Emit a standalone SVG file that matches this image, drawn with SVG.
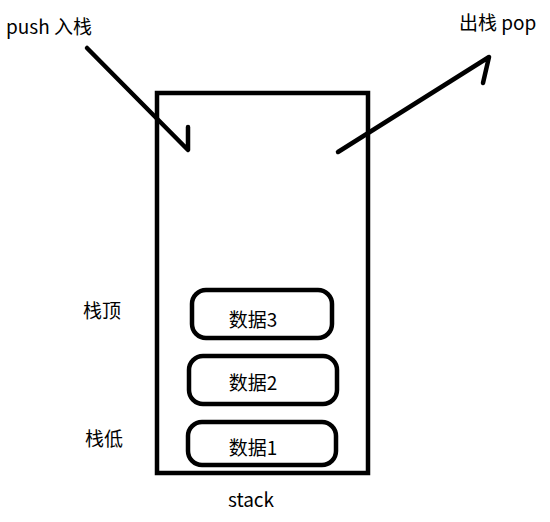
<svg xmlns="http://www.w3.org/2000/svg" width="550" height="522" viewBox="0 0 550 522">
<style>
.t{font-family:"Microsoft YaHei","Noto Sans CJK SC","Liberation Sans",sans-serif;font-size:19px;fill:#000}
.s{fill:none;stroke:#000;stroke-width:4.5;stroke-linecap:round;stroke-linejoin:round}
.b{fill:#fff;stroke:#000;stroke-width:4.5}
</style>
<rect width="550" height="522" fill="#fff"/>
<g id="stack">
<rect x="157" y="93" width="211" height="380" fill="none" stroke="#000" stroke-width="4.5"/>
<text class="t" x="251" y="507" text-anchor="middle">stack</text>
</g>
<g id="data3">
<rect class="b" x="192" y="290" width="140" height="48" rx="14"/>
<text class="t" x="253" y="327" text-anchor="middle">数据3</text>
</g>
<g id="data2">
<rect class="b" x="189" y="356" width="148" height="48" rx="14"/>
<text class="t" x="253" y="390" text-anchor="middle">数据2</text>
</g>
<g id="data1">
<rect class="b" x="188" y="422" width="148" height="43" rx="14"/>
<text class="t" x="253" y="455" text-anchor="middle">数据1</text>
</g>
<g id="labels">
<text class="t" x="83" y="318">栈顶</text>
<text class="t" x="85" y="446">栈低</text>
<text class="t" x="6" y="34">push 入栈</text>
<text class="t" x="459" y="30">出栈 pop</text>
</g>
<g id="connectors">
<path class="s" d="M87,48 L188,150 L188,127"/>
<path class="s" d="M338,152 L489,57 L483,83"/>
</g>
</svg>
